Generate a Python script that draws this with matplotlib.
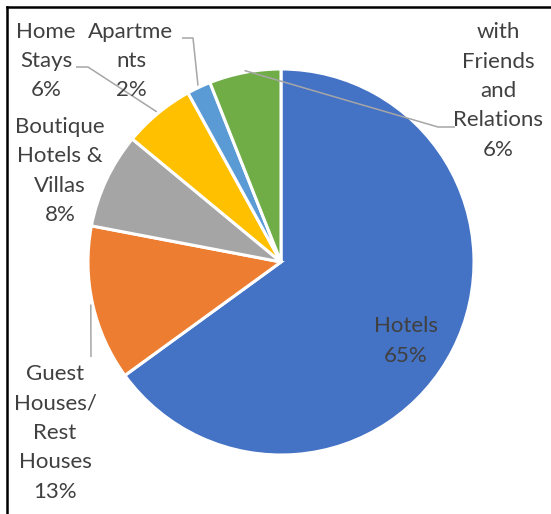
import numpy as np
import matplotlib.pyplot as plt

# data, clockwise from 12 o'clock
labels = ["Hotels", "Guest\nHouses/\nRest\nHouses", "Boutique\nHotels &\nVillas",
          "Home\nStays", "Apartme\nnts", "with\nFriends\nand\nRelations"]
shares = [65, 13, 8, 6, 2, 6]
colors = ["#4472C4", "#ED7D31", "#A5A5A5", "#FFC000", "#5B9BD5", "#70AD47"]

W, H = 551, 514
cx, cy, R = 281, H - 262, 193
# label block centres (pixel coords, y from top) and the elbow of each leader
label_pos = [(406, 341), (55, 433), (60, 171), (46, 61), (131, 61), (498, 91)]
elbows = [None, [(91, 357)], None, [(76, 67), (88, 67)], [(182, 38), (193, 38)],
          [(455, 127), (438, 127)]]

plt.rcParams['font.family'] = ['Lato', 'DejaVu Sans']
fig = plt.figure(figsize=(W / 100, H / 100), dpi=100)
ax = fig.add_axes([0, 0, 1, 1])

wedges, _ = ax.pie(shares, colors=colors, startangle=90, counterclock=False,
                   center=(cx, cy), radius=R, frame=True,
                   wedgeprops=dict(edgecolor='white', linewidth=2.2))
ax.set_xlim(0, W)
ax.set_ylim(0, H)
ax.set_aspect('auto')
ax.axis('off')

txt = '#404040'
for i, (w, lab, s) in enumerate(zip(wedges, labels, shares)):
    x, y = label_pos[i]
    ax.text(x, H - y, f"{lab}\n{s}%", ha='center', va='center', color=txt,
            fontsize=16, linespacing=1.58, multialignment='center')
    if elbows[i]:
        mid = np.deg2rad((w.theta1 + w.theta2) / 2)
        ex, ey = cx + R * 1.01 * np.cos(mid), cy + R * 1.01 * np.sin(mid)
        pts = [(px, H - py) for px, py in elbows[i]] + [(ex, ey)]
        ax.plot([p[0] for p in pts], [p[1] for p in pts], color='#A6A6A6',
                lw=1.1, solid_capstyle='butt')

# chart border (only left and top visible in the crop)
fig.add_artist(plt.Line2D([7 / W, 7 / W], [0, 1 - 7 / H], color='black', lw=1.8,
                          transform=fig.transFigure))
fig.add_artist(plt.Line2D([7 / W, 1], [1 - 7 / H, 1 - 7 / H], color='black', lw=1.8,
                          transform=fig.transFigure))

fig.savefig('out.png', dpi=100, facecolor='white')
